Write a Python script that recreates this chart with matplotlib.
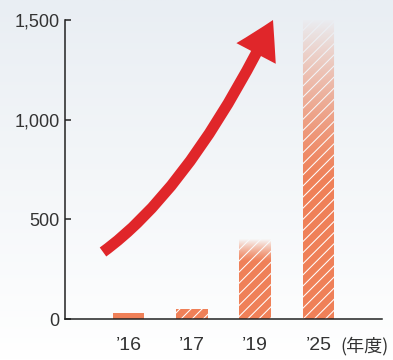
import numpy as np
import matplotlib
matplotlib.use("Agg")
import matplotlib.pyplot as plt
from matplotlib.patches import FancyArrowPatch
from matplotlib.path import Path
from matplotlib.colors import to_rgb

years = ['’16', '’17', '’19', '’25']
values = [30, 50, 400, 1500]
hatches = ['', '///', '///', '///']
fade = [0, 0, 0.28, 0.55]   # share of bar height that fades out at top
yticks = [0, 500, 1000, 1500]
ytick_labels = ['0', '500', '1,000', '1,500']

plt.rcParams['font.family'] = ['Liberation Sans', 'Noto Sans CJK JP', 'DejaVu Sans']
plt.rcParams['hatch.linewidth'] = 0.75

fig = plt.figure(figsize=(3.93, 3.6), dpi=100)

# background gradient
top_c = np.array(to_rgb('#e9eef3'))
bot_c = np.array(to_rgb('#ffffff'))
def bg_at(f):
    # f: figure fraction from bottom
    return bot_c + (top_c - bot_c) * f

bg = fig.add_axes([0, 0, 1, 1], zorder=-1)
g = np.linspace(1, 0, 256)[:, None, None] * (top_c - bot_c) + bot_c
bg.imshow(np.repeat(g, 2, axis=1), aspect='auto', extent=[0, 1, 0, 1])
bg.axis('off')

ax = fig.add_axes([65 / 393, 41 / 360, 317 / 393, 299 / 360])
ax.set_facecolor('none')
x = np.arange(len(years))
w = 0.5
bar_color = '#ef8058'
bars = ax.bar(x, values, width=w, color=bar_color, edgecolor='white', linewidth=0, zorder=2)
for b, h in zip(bars, hatches):
    b.set_hatch(h)

ax.set_xlim(-1, 4)
ax.set_ylim(0, 1500)

# fade the tops of the tall bars into the background
for xi, v, f in zip(x, values, fade):
    if f <= 0:
        continue
    y0 = v * (1 - f)
    fy = fig.transFigure.inverted().transform(ax.transData.transform((xi, v)))[1]
    c = bg_at(fy)
    n = 200
    alpha = np.linspace(1, 0, n) ** 1.3
    img = np.zeros((n, 2, 4))
    img[..., :3] = c
    img[..., 3] = alpha[:, None]
    ax.imshow(img, extent=[xi - w / 2 - 0.01, xi + w / 2 + 0.01, y0, v], aspect='auto', zorder=3)
ax.set_xlim(-1, 4)
ax.set_ylim(0, 1500)

for s in ['top', 'right']:
    ax.spines[s].set_visible(False)
for s in ['left', 'bottom']:
    ax.spines[s].set_linewidth(1.1)
    ax.spines[s].set_color('#222222')

ax.set_yticks(yticks)
ax.set_yticklabels(ytick_labels)
ax.tick_params(axis='y', direction='in', length=4.5, width=1.1, color='#222222',
               labelsize=13, labelcolor='#333333', pad=4)
ax.set_xticks(x)
ax.set_xticklabels(years)
ax.tick_params(axis='x', length=0, labelsize=14, labelcolor='#333333', pad=13)

ax.text(3.73, -0.09, '(年度)', transform=ax.get_xaxis_transform(), ha='center', va='center',
        fontsize=13, color='#333333', family=['Noto Sans CJK JP', 'DejaVu Sans'])

# big red arrow (decoration), pixel positions -> axes fraction
def px(p):
    return ((p[0] - 65) / 317, (319 - p[1]) / 299)

verts = [px((103, 252)), px((191, 188)), px((273, 20))]
path = Path(verts, [Path.MOVETO, Path.CURVE3, Path.CURVE3])
arrow = FancyArrowPatch(path=path, transform=ax.transAxes,
                        arrowstyle='simple,head_length=27,head_width=32,tail_width=8',
                        mutation_scale=1, color='#e0262a', linewidth=0, zorder=5,
                        clip_on=False)
ax.add_patch(arrow)

fig.savefig('out.png', dpi=100)
